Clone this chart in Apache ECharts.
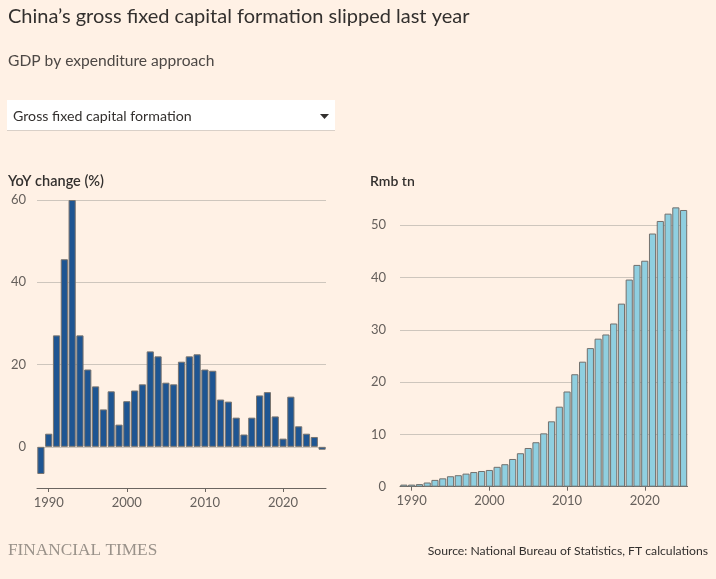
<!DOCTYPE html>
<html>
<head>
<meta charset="utf-8">
<script src="https://cdn.jsdelivr.net/npm/echarts@6/dist/echarts.min.js"></script>
<style>
  html, body { margin: 0; padding: 0; background: #fff1e5; }
  #chart { width: 716px; height: 579px; }
</style>
</head>
<body>
<div id="chart"></div>
<script>
  // years 1989-2025
  var years = []
  for (var y = 1989; y <= 2025; y++) years.push(String(y))

  // YoY change (%)
  var yoyChange = [-6.6, 3.2, 27.1, 45.6, 60.0, 27.1, 18.8, 14.7, 9.1, 13.5,
    5.4, 11.1, 13.7, 15.2, 23.2, 22.0, 15.6, 15.2, 20.7, 22.0,
    22.5, 18.8, 18.5, 11.5, 11.0, 7.1, 3.0, 7.1, 12.5, 13.3,
    7.4, 2.0, 12.2, 5.0, 3.2, 2.4, -0.7]

  // Rmb tn
  var rmbTn = [0.4, 0.4, 0.5, 0.8, 1.3, 1.6, 2.0, 2.2, 2.5, 2.8,
    3.0, 3.2, 3.8, 4.3, 5.3, 6.4, 7.4, 8.5, 10.2, 12.5,
    15.3, 18.2, 21.5, 23.9, 26.5, 28.3, 29.1, 31.2, 35.0, 39.6,
    42.4, 43.2, 48.4, 50.8, 52.2, 53.4, 52.9]

  var yoyTicks = [0, 20, 40, 60]
  var rmbTicks = [0, 10, 20, 30, 40, 50]
  var xTicks = ['1990', '2000', '2010', '2020']

  var textColor = '#33302e'
  var mutedColor = '#66605c'
  var gridColor = '#cec6bd'
  var font = 'Lato, "Noto Sans", sans-serif'

  var myChart = echarts.init(document.getElementById('chart'))

  function xAxisOf(idx) {
    return {
      type: 'category',
      gridIndex: idx,
      data: years,
      boundaryGap: true,
      axisLine: { show: true, onZero: false, lineStyle: { color: '#6b6560', width: 1 } },
      axisTick: {
        show: true,
        alignWithLabel: true,
        length: 4,
        lineStyle: { color: '#6b6560' },
        interval: function (i, v) { return xTicks.indexOf(v) >= 0 }
      },
      axisLabel: {
        margin: 8,
        color: mutedColor,
        fontSize: 13,
        fontFamily: font,
        interval: function (i, v) { return xTicks.indexOf(v) >= 0 }
      },
      splitLine: { show: false }
    }
  }

  var option = {
    backgroundColor: '#fff1e5',
    animation: false,
    grid: [
      { left: 37, right: 390, top: 200, bottom: 91, containLabel: false },
      { left: 400, right: 28.5, top: 199, bottom: 92.3, containLabel: false }
    ],
    xAxis: [xAxisOf(0), xAxisOf(1)],
    yAxis: [
      {
        type: 'value',
        gridIndex: 0,
        min: -10,
        max: 60,
        interval: 10,
        axisLine: { show: false },
        axisTick: { show: false },
        axisLabel: {
          margin: 11,
          color: mutedColor,
          fontSize: 13,
          fontFamily: font,
          formatter: function (v) { return yoyTicks.indexOf(v) >= 0 ? String(v) : '' }
        },
        splitLine: {
          show: true,
          showMinLine: false,
          lineStyle: { color: [gridColor, 'rgba(0,0,0,0)'], width: 1 }
        }
      },
      {
        type: 'value',
        gridIndex: 1,
        min: 0,
        max: 55,
        interval: 10,
        axisLine: { show: false },
        axisTick: { show: false },
        axisLabel: {
          margin: 14,
          color: mutedColor,
          fontSize: 13,
          fontFamily: font,
          showMaxLabel: false,
          formatter: function (v) { return rmbTicks.indexOf(v) >= 0 ? String(v) : '' }
        },
        splitLine: {
          show: true,
          showMinLine: false,
          showMaxLine: false,
          lineStyle: { color: gridColor, width: 1 }
        }
      }
    ],
    series: [
      {
        name: 'YoY change (%)',
        type: 'bar',
        xAxisIndex: 0,
        yAxisIndex: 0,
        barCategoryGap: '8%',
        itemStyle: { color: '#1e5592', borderColor: '#78746f', borderWidth: 1 },
        data: yoyChange
      },
      {
        name: 'Rmb tn',
        type: 'bar',
        xAxisIndex: 1,
        yAxisIndex: 1,
        barCategoryGap: '8%',
        itemStyle: { color: '#8fcfe0', borderColor: '#72706d', borderWidth: 1 },
        data: rmbTn
      }
    ],
    graphic: [
      // 标题
      {
        type: 'text', left: 8, top: 7,
        style: { text: 'China’s gross fixed capital formation slipped last year', fill: textColor, font: '20px ' + font }
      },
      {
        type: 'text', left: 8, top: 53,
        style: { text: 'GDP by expenditure approach', fill: '#4d4845', font: '15.6px ' + font }
      },
      // 下拉框
      {
        type: 'rect',
        shape: { x: 7, y: 100, width: 328, height: 30 },
        style: { fill: '#ffffff', stroke: null }
      },
      {
        type: 'line',
        shape: { x1: 7, y1: 130.5, x2: 335, y2: 130.5 },
        style: { stroke: '#d9d0c8', lineWidth: 1 }
      },
      {
        type: 'text', left: 13, top: 109,
        style: { text: 'Gross fixed capital formation', fill: textColor, font: '14.2px ' + font }
      },
      {
        type: 'polygon',
        shape: { points: [[320, 114], [329, 114], [324.5, 119]] },
        style: { fill: textColor }
      },
      // 图表小标题
      {
        type: 'text', left: 8, top: 174,
        style: { text: 'YoY change (%)', fill: textColor, font: '600 14.5px ' + font }
      },
      {
        type: 'text', left: 370, top: 174,
        style: { text: 'Rmb tn', fill: textColor, font: '600 14px ' + font }
      },
      // 页脚
      {
        type: 'text', left: 8, top: 542,
        style: { text: 'FINANCIAL TIMES', fill: '#9a928a', font: '17.3px "Liberation Serif", "DejaVu Serif", serif' }
      },
      {
        type: 'text', right: 8, top: 545,
        style: { text: 'Source: National Bureau of Statistics, FT calculations', fill: textColor, font: '12.2px "Liberation Sans Narrow", Lato, sans-serif' }
      }
    ]
  }

  myChart.setOption(option)
</script>
</body>
</html>
